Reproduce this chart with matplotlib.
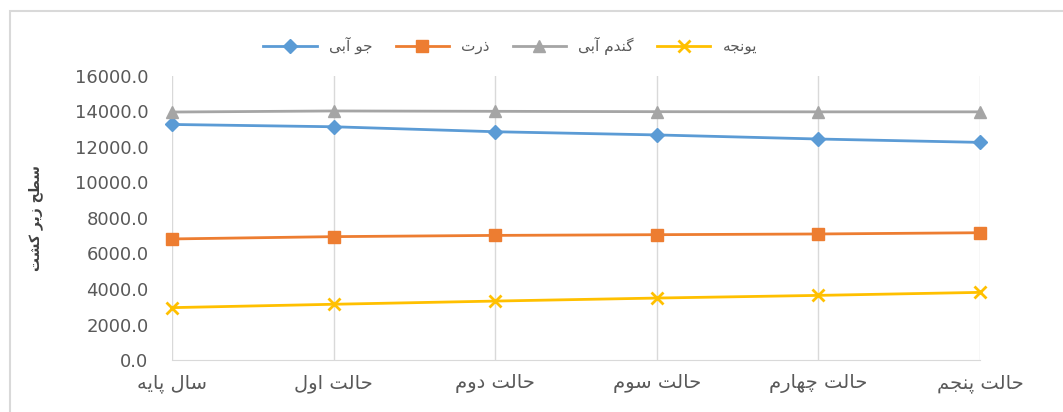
import matplotlib
matplotlib.use('Agg')
import matplotlib.pyplot as plt
from matplotlib.patches import Rectangle

# data
categories = ['سال پایه', 'حالت اول', 'حالت دوم', 'حالت سوم', 'حالت چهارم', 'حالت پنجم']
jo_abi = [13270, 13140, 12860, 12680, 12450, 12260]
zorat = [6820, 6950, 7020, 7060, 7100, 7170]
gandom_abi = [13970, 14030, 14010, 13990, 13980, 13980]
yonjeh = [2950, 3140, 3320, 3490, 3640, 3810]
series_names = ['جو آبی', 'ذرت', 'گندم آبی', 'یونجه']
y_label = 'سطح زیر کشت'

# persian letter forms: isolated, final, initial, medial
FORMS = {
    'ا': ('\uFE8D', '\uFE8E'), 'آ': ('\uFE81', '\uFE82'),
    'د': ('\uFEA9', '\uFEAA'), 'ذ': ('\uFEAB', '\uFEAC'),
    'ر': ('\uFEAD', '\uFEAE'), 'ز': ('\uFEAF', '\uFEB0'),
    'و': ('\uFEED', '\uFEEE'),
    'ب': ('\uFE8F', '\uFE90', '\uFE91', '\uFE92'),
    'پ': ('\uFB56', '\uFB57', '\uFB58', '\uFB59'),
    'ت': ('\uFE95', '\uFE96', '\uFE97', '\uFE98'),
    'ج': ('\uFE9D', '\uFE9E', '\uFE9F', '\uFEA0'),
    'چ': ('\uFB7A', '\uFB7B', '\uFB7C', '\uFB7D'),
    'ح': ('\uFEA1', '\uFEA2', '\uFEA3', '\uFEA4'),
    'س': ('\uFEB1', '\uFEB2', '\uFEB3', '\uFEB4'),
    'ش': ('\uFEB5', '\uFEB6', '\uFEB7', '\uFEB8'),
    'ط': ('\uFEC1', '\uFEC2', '\uFEC3', '\uFEC4'),
    'ک': ('\uFB8E', '\uFB8F', '\uFB90', '\uFB91'),
    'گ': ('\uFB92', '\uFB93', '\uFB94', '\uFB95'),
    'ل': ('\uFEDD', '\uFEDE', '\uFEDF', '\uFEE0'),
    'م': ('\uFEE1', '\uFEE2', '\uFEE3', '\uFEE4'),
    'ن': ('\uFEE5', '\uFEE6', '\uFEE7', '\uFEE8'),
    'ه': ('\uFEE9', '\uFEEA', '\uFEEB', '\uFEEC'),
    'ی': ('\uFBFC', '\uFBFD', '\uFBFE', '\uFBFF'),
}


def fa(text):
    # shape letters and put them in visual (left to right) order
    out = []
    n = len(text)
    for i, ch in enumerate(text):
        if ch not in FORMS:
            out.append(ch)
            continue
        prev = text[i - 1] if i > 0 else ''
        nxt = text[i + 1] if i < n - 1 else ''
        join_prev = prev in FORMS and len(FORMS[prev]) == 4
        join_next = len(FORMS[ch]) == 4 and nxt in FORMS
        f = FORMS[ch]
        if join_prev and join_next:
            out.append(f[3])
        elif join_prev:
            out.append(f[1])
        elif join_next:
            out.append(f[2])
        else:
            out.append(f[0])
    return ''.join(out)[::-1]


plt.rcParams['font.family'] = ['DejaVu Sans']

fig = plt.figure(figsize=(10.63, 4.12), dpi=100)
ax = fig.add_axes([172 / 1063, 1 - 360 / 412, 808 / 1063, 284 / 412])

x = list(range(len(categories)))
ax.plot(x, jo_abi, color='#5B9BD5', lw=2, marker='D', ms=7, label=fa(series_names[0]), clip_on=False)
ax.plot(x, zorat, color='#ED7D31', lw=2, marker='s', ms=9, label=fa(series_names[1]), clip_on=False)
ax.plot(x, gandom_abi, color='#A5A5A5', lw=2, marker='^', ms=9, label=fa(series_names[2]), clip_on=False)
ax.plot(x, yonjeh, color='#FFC000', lw=2, marker='x', ms=8, mew=2, label=fa(series_names[3]), clip_on=False)

ax.set_xlim(0, len(categories) - 1)
ax.set_ylim(0, 16000)
ax.set_yticks(range(0, 16001, 2000))
ax.set_yticklabels(['%.1f' % v for v in range(0, 16001, 2000)], color='#595959', fontsize=13)
ax.set_xticks(x)
ax.set_xticklabels([fa(c) for c in categories], color='#595959', fontsize=14)
ax.tick_params(length=0, pad=10)
ax.tick_params(axis='y', pad=17)
ax.grid(axis='x', color='#D9D9D9', lw=1)
ax.set_axisbelow(True)
for s in ['top', 'right', 'left']:
    ax.spines[s].set_visible(False)
ax.spines['bottom'].set_color('#D9D9D9')

fig.text(36 / 1063, 1 - 218 / 412, fa(y_label), rotation=90, ha='center', va='center',
         fontsize=10, fontweight='bold', color='#404040')

fig.legend(loc='center', bbox_to_anchor=(0.48, 1 - 46 / 412), ncol=4, frameon=False,
           fontsize=11, handlelength=3.5, columnspacing=1.5, handletextpad=0.8,
           labelcolor='#595959')

fig.patches.append(Rectangle((10 / 1063, -0.1), 1.2, 1.1 - 11 / 412, transform=fig.transFigure,
                             fill=False, edgecolor='#D9D9D9', lw=1.5))

fig.savefig('out.png', dpi=100)
